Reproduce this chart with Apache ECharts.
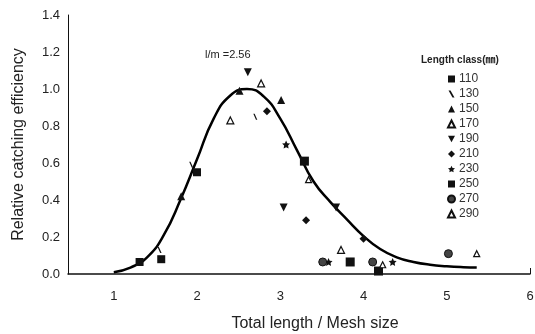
<!DOCTYPE html>
<html>
<head>
<meta charset="utf-8">
<style>
  html, body { margin: 0; padding: 0; background: #fff; }
  #chart { width: 535px; height: 334px; }
</style>
<script src="https://cdn.jsdelivr.net/npm/echarts@6/dist/echarts.min.js"></script>
</head>
<body>
<div id="chart"></div>
<script>
// fitted selectivity curve (l/m, relative efficiency)
const curve = [
  [1.0, 0.01], [1.2, 0.035], [1.4, 0.09], [1.6, 0.21], [1.8, 0.40],
  [2.0, 0.62], [2.2, 0.84], [2.4, 0.965], [2.6, 1.0], [2.8, 0.96],
  [3.0, 0.84], [3.2, 0.67], [3.4, 0.50], [3.6, 0.39], [3.8, 0.295],
  [4.0, 0.205], [4.2, 0.135], [4.4, 0.09], [4.6, 0.065], [4.8, 0.05],
  [5.0, 0.042], [5.2, 0.037], [5.36, 0.035]
];

// observed points per length class
const len110 = [[1.31, 0.065], [1.57, 0.08], [2.0, 0.55]];
const len130 = [[1.55, 0.13], [1.93, 0.59], [2.70, 0.85]];
const len150 = [[1.81, 0.42], [2.51, 0.99], [3.01, 0.94]];
const len170 = [[2.40, 0.83], [2.77, 1.03], [3.73, 0.13]];
const len190 = [[2.61, 1.09], [3.04, 0.36], [3.67, 0.36]];
const len210 = [[2.84, 0.88], [3.31, 0.29], [4.0, 0.19]];
const len230 = [[3.07, 0.70], [3.58, 0.065], [4.35, 0.065]];
const len250 = [[3.29, 0.61], [3.84, 0.065], [4.18, 0.016]];
const len270 = [[3.51, 0.065], [4.11, 0.065], [5.02, 0.11]];
const len290 = [[3.34, 0.51], [4.23, 0.05], [5.36, 0.11]];

const xTicks = [1, 2, 3, 4, 5, 6];

const font = '"Liberation Sans", Arial, sans-serif';
const star = 'path://M0,-10 L2.9,-4 9.5,-3.1 4.7,1.5 5.9,8.1 0,5 -5.9,8.1 -4.7,1.5 -9.5,-3.1 -2.9,-4 Z';
const comma = 'path://M0,0 L2,0 L6,7 L4,7 Z';

const chart = echarts.init(document.getElementById('chart'));

function pts(name, data, symbol, size, style) {
  return {
    name: name,
    type: 'scatter',
    data: data,
    symbol: symbol,
    symbolSize: size,
    itemStyle: Object.assign({ color: '#111', opacity: 1 }, style || {}),
    z: 3
  };
}

const openTri = { color: '#fff', borderColor: '#111', borderWidth: 1.2 };

chart.setOption({
  animation: false,
  grid: { left: 68, right: 5, top: 15, bottom: 60, outerBoundsMode: 'none' },
  xAxis: {
    type: 'value',
    min: 0.45,
    max: 6,
    name: 'Total length / Mesh size',
    nameLocation: 'middle',
    nameGap: 42,
    nameTextStyle: { fontFamily: font, fontSize: 16, color: '#222', padding: [0, 0, 0, 32] },
    axisLine: { lineStyle: { color: '#111', width: 1.5 } },
    axisTick: { show: true, inside: true, length: 6, customValues: [6], lineStyle: { color: '#111' } },
    axisLabel: { customValues: xTicks, fontFamily: font, fontSize: 13, color: '#222', margin: 16 },
    splitLine: { show: false }
  },
  yAxis: {
    type: 'value',
    min: 0,
    max: 1.4,
    interval: 0.2,
    name: 'Relative catching efficiency',
    nameLocation: 'middle',
    nameGap: 41,
    nameTextStyle: { fontFamily: font, fontSize: 16, color: '#222' },
    axisLine: { show: true, lineStyle: { color: '#111', width: 1 } },
    axisTick: { show: false },
    axisLabel: {
      fontFamily: font, fontSize: 13, color: '#222', margin: 8,
      formatter: v => v.toFixed(1)
    },
    splitLine: { show: false }
  },
  title: {
    text: 'Length class(㎜)',
    left: 416,
    top: 50,
    textStyle: { fontFamily: font + ', "Noto Sans CJK KR"', fontSize: 10, fontWeight: 'bold', color: '#222' }
  },
  legend: {
    orient: 'vertical',
    left: 442,
    top: 68,
    itemWidth: 7,
    itemHeight: 7,
    itemGap: 3,
    itemStyle: { opacity: 1 },
    textStyle: { fontFamily: font, fontSize: 12, lineHeight: 12, color: '#333', padding: [0, 0, 0, -1] },
    data: ['110', '130', '150', '170', '190', '210', '230', '250', '270', '290']
  },
  graphic: [{
    type: 'text',
    left: 205,
    top: 49,
    style: { text: 'l/m =2.56', font: '11px ' + font, fill: '#222' }
  }],
  series: [
    {
      name: 'curve',
      type: 'line',
      data: curve,
      smooth: 0.5,
      showSymbol: false,
      lineStyle: { color: '#000', width: 2.5 },
      z: 2
    },
    pts('110', len110, 'rect', 8),
    pts('130', len130, comma, [4, 6]),
    pts('150', len150, 'triangle', 8),
    pts('170', len170, 'triangle', 7, openTri),
    pts('190', len190, 'path://M0,0 L10,0 L5,9 Z', 8),
    pts('210', len210, 'diamond', 8),
    pts('230', len230, star, 8),
    pts('250', len250, 'rect', 9),
    pts('270', len270, 'circle', 8, { color: '#444', borderColor: '#111', borderWidth: 1 }),
    pts('290', len290, 'triangle', 6, openTri)
  ]
});
</script>
</body>
</html>
